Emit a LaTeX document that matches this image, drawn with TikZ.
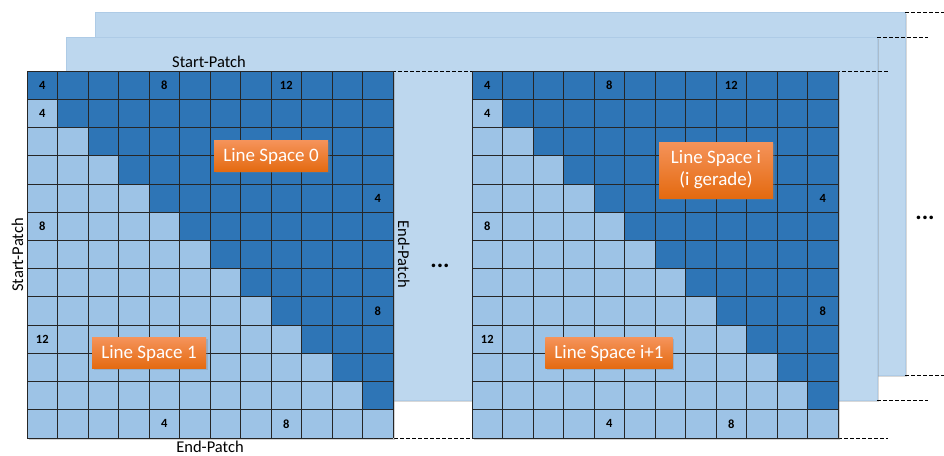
\documentclass[tikz,border=0pt]{standalone}
\usepackage{fontspec}
\setmainfont{Carlito}
\usetikzlibrary{shadows}
\definecolor{darkcell}{HTML}{2E75B6}
\definecolor{litecell}{HTML}{9DC3E6}
\definecolor{panelfill}{HTML}{BDD7EE}
\definecolor{paneledge}{HTML}{AECBE6}
\definecolor{otop}{HTML}{F5935A}
\definecolor{obot}{HTML}{E46A10}
\begin{document}
\begin{tikzpicture}[x=1pt,y=-1pt,
  panelbox/.style={fill=panelfill, draw=paneledge, line width=0.6pt,
    drop shadow={shadow xshift=1.5pt,shadow yshift=-1.5pt,opacity=0.3}},
  gridbase/.style={fill=litecell,
    drop shadow={shadow xshift=2pt,shadow yshift=-2pt,opacity=0.35}},
  gridline/.style={draw=black!85, line width=0.8pt},
  guide/.style={draw=black, dash pattern=on 3.5pt off 2.5pt, line width=0.7pt},
  lsbox/.style={top color=otop, bottom color=obot, text=white,
    font=\fontsize{19}{22}\selectfont, inner xsep=9pt, inner ysep=2pt,
    minimum width=114pt, minimum height=31pt, align=center,
    drop shadow={shadow xshift=1.5pt,shadow yshift=-1.5pt,opacity=0.3}},
  axislabel/.style={font=\fontsize{16.5}{18}\selectfont, inner sep=0pt},
  num/.style={font=\bfseries\fontsize{12.5}{13}\selectfont, inner sep=0pt},
  dotslabel/.style={font=\bfseries\fontsize{24}{24}\selectfont, inner sep=0pt}]
\useasboundingbox (0,0) rectangle (944,455);
\fill[white] (0,0) rectangle (944,455);
% back panels
\path[panelbox] (95,12) rectangle (905,375);
\path[panelbox] (66,37) rectangle (877,400);
% guide lines
\draw[guide] (905,12) -- (944,12);
\draw[guide] (905,375) -- (944,375);
\draw[guide] (877,37) -- (928,37);
\draw[guide] (877,400) -- (928,400);
\draw[guide] (392,71) -- (888,71);
\draw[guide] (388,438) -- (888,438);
% grids
\foreach \gx in {27,472} {
  \path[gridbase] (\gx,71) rectangle ++(366,367);
  \foreach \r in {0,...,11}
    \fill[darkcell] ({\gx+\r*30.5},{71+\r*28.2308}) rectangle ({\gx+366},{71+(\r+1)*28.2308});
  \foreach \c in {0,...,12}
    \draw[gridline] ({\gx+\c*30.5},71) -- ++(0,367);
  \foreach \r in {0,...,13}
    \draw[gridline] (\gx,{71+\r*28.2308}) -- ++(366,0);
}
\foreach \gx/\g in {27/a,472/b} {
  \foreach \c/\r/\t/\n in {0/0/4/t1, 4/0/8/t2, 8/0/12/t3, 0/1/4/l1, 0/5/8/l2, 0/9/12/l3, 11/4/4/r1, 11/8/8/r2, 4/12/4/b1, 8/12/8/b2}
    \node[num] (\g\n) at ({\gx+(\c+0.5)*30.5},{71+(\r+0.5)*28.2308}) {\t};
}
% axis labels
\node[axislabel, anchor=base] (sptop) at (209,67) {Start-Patch};
\node[axislabel, anchor=base, rotate=90] (spleft) at (23,255) {Start-Patch};
\node[axislabel, anchor=base, rotate=-90] (epright) at (398,254) {End-Patch};
\node[axislabel, anchor=base] (epbot) at (210,452) {End-Patch};
% dots
\node[dotslabel, anchor=base] (dmid) at (440,267) {...};
\node[dotslabel, anchor=base] (dright) at (925,219) {...};
% line space boxes
\node[lsbox] (ls0) at (271,156) {Line Space 0};
\node[lsbox] (ls1) at (149,353) {Line Space 1};
\node[lsbox, minimum height=56pt] (lsi) at (716,170) {Line Space i\\(i gerade)};
\node[lsbox] (lsi1) at (609,353) {Line Space i+1};
\end{tikzpicture}
\end{document}
